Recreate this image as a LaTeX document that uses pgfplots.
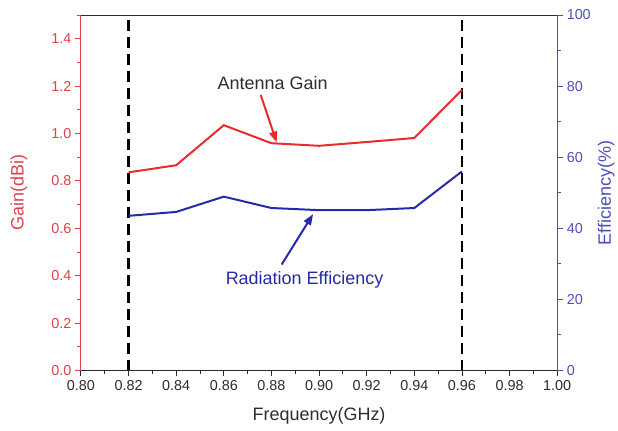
\documentclass[border=0pt]{standalone}
\usepackage{pgfplots}
\pgfplotsset{compat=1.18}
\usepackage{fontspec}
\setmainfont{Liberation Sans}
\usetikzlibrary{calc,arrows.meta}

\definecolor{gainred}{RGB}{232,44,44}
\definecolor{effblue}{RGB}{38,42,168}
\definecolor{axred}{RGB}{222,66,76}
\definecolor{axblue}{RGB}{78,78,186}
\definecolor{txtgray}{RGB}{45,45,45}

\begin{document}
\begin{tikzpicture}
\pgfplotsset{
  every axis/.append style={
    scale only axis, width=477pt, height=356pt,
    xmin=0.8, xmax=1.0,
    tick align=outside,
    major tick length=6pt, minor tick length=3.5pt,
    /pgf/number format/assume math mode=true,
    tick label style={font=\fontsize{14.4}{16}\selectfont},
    label style={font=\fontsize{18}{20}\selectfont},
    clip=false,
  }
}
% Gain (left axis)
\begin{axis}[name=gain,
  axis x line*=bottom, axis y line*=left,
  ymin=0, ymax=1.5,
  xtick={0.80,0.82,0.84,0.86,0.88,0.90,0.92,0.94,0.96,0.98,1.00},
  minor xtick={0.81,0.83,0.85,0.87,0.89,0.91,0.93,0.95,0.97,0.99},
  ytick={0,0.2,0.4,0.6,0.8,1.0,1.2,1.4},
  minor ytick={0.1,0.3,0.5,0.7,0.9,1.1,1.3,1.5},
  xticklabel style={/pgf/number format/fixed, /pgf/number format/fixed zerofill, /pgf/number format/precision=2},
  yticklabel style={/pgf/number format/fixed, /pgf/number format/fixed zerofill, /pgf/number format/precision=1},
  x axis line style={txtgray, line width=0.9pt, -},
  y axis line style={axred, line width=0.9pt, -},
  xtick style={txtgray, line width=0.9pt},
  ytick style={axred, line width=0.9pt},
  x tick label style={text=txtgray},
  y tick label style={text=axred},
  xlabel={Frequency(GHz)},
  xlabel style={text=txtgray, at={(axis description cs:0.5,-0.129)}, anchor=center},
  ylabel={Gain(dBi)},
  ylabel style={text=axred, at={(axis description cs:-0.130,0.5)}, anchor=center},
]
% band edges
\addplot[black, line width=2.6pt, dash pattern=on 11pt off 6pt] coordinates {(0.82,0) (0.82,1.5)};
\addplot[black, line width=2.6pt, dash pattern=on 11pt off 6pt] coordinates {(0.96,0) (0.96,1.5)};
% antenna gain
\addplot[gainred, line width=2pt] coordinates {
  (0.82,0.836) (0.84,0.866) (0.86,1.035) (0.88,0.959)
  (0.90,0.948) (0.92,0.964) (0.94,0.981) (0.96,1.184)};
\node[text=txtgray, font=\fontsize{18}{20}\selectfont] at (axis cs:0.8805,1.214) {Antenna Gain};
\draw[gainred, line width=2pt, -{Triangle[length=11pt,width=8pt]}]
  (axis cs:0.8755,1.163) -- (axis cs:0.8822,0.962);
\node[text=effblue, font=\fontsize{18}{20}\selectfont] at (axis cs:0.8939,0.383) {Radiation Efficiency};
\draw[effblue, line width=2pt, -{Triangle[length=11pt,width=8pt]}]
  (axis cs:0.8843,0.447) -- (axis cs:0.8975,0.660);
\end{axis}
% Efficiency (right axis)
\begin{axis}[
  axis x line*=top, axis y line*=right,
  xtick=\empty,
  ymin=0, ymax=100,
  ytick={0,20,40,60,80,100},
  minor ytick={10,30,50,70,90},
  x axis line style={txtgray, line width=0.9pt, -},
  y axis line style={axblue, line width=0.9pt, -},
  ytick style={axblue, line width=0.9pt},
  y tick label style={text=axblue},
  ylabel={Efficiency(\%)},
  ylabel style={text=axblue, at={(axis description cs:1.103,0.5)}, anchor=center},
]
\addplot[effblue, line width=2pt] coordinates {
  (0.82,43.5) (0.84,44.6) (0.86,48.9) (0.88,45.7)
  (0.90,45.1) (0.92,45.1) (0.94,45.7) (0.96,56.0)};
\end{axis}
\path ($(gain.south west)+(-81pt,-60pt)$) rectangle ($(gain.north east)+(60pt,15pt)$);
\end{tikzpicture}
\end{document}
